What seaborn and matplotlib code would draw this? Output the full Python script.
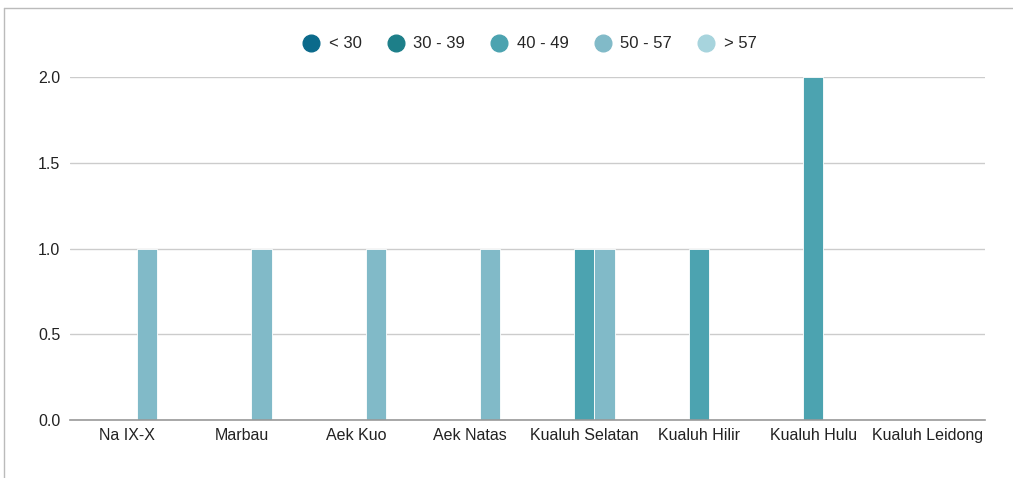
import pandas as pd
import numpy as np
import seaborn as sns
import matplotlib.pyplot as plt
from matplotlib.lines import Line2D

categories = ['Na IX-X', 'Marbau', 'Aek Kuo', 'Aek Natas', 'Kualuh Selatan',
              'Kualuh Hilir', 'Kualuh Hulu', 'Kualuh Leidong']
age_groups = ['< 30', '30 - 39', '40 - 49', '50 - 57', '> 57']
counts_lt30 = [0, 0, 0, 0, 0, 0, 0, 0]
counts_30_39 = [0, 0, 0, 0, 0, 0, 0, 0]
counts_40_49 = [0, 0, 0, 0, 1, 1, 2, 0]
counts_50_57 = [1, 1, 1, 1, 1, 0, 0, 0]
counts_gt57 = [0, 0, 0, 0, 0, 0, 0, 0]
colors = ['#0b6a8b', '#1d7f89', '#4ca3b0', '#81bac8', '#a7d4dd']

series = [counts_lt30, counts_30_39, counts_40_49, counts_50_57, counts_gt57]
rows = []
for grp, vals in zip(age_groups, series):
    for cat, v in zip(categories, vals):
        rows.append({'Kecamatan': cat, 'Umur': grp, 'Jumlah': v})
df = pd.DataFrame(rows)

sns.set_style('white')
plt.rcParams['font.family'] = ['Liberation Sans', 'DejaVu Sans']

fig = plt.figure(figsize=(10.13, 4.78), dpi=100)
ax = fig.add_axes([0.069, 0.121, 0.903, 0.718])
sns.barplot(data=df, x='Kecamatan', y='Jumlah', hue='Umur', order=categories,
            hue_order=age_groups, palette=colors, width=0.88, ax=ax,
            saturation=1, edgecolor='white', linewidth=0.6, errorbar=None,
            legend=False)

ax.set_ylim(0, 2.0)
ax.set_yticks(np.arange(0, 2.01, 0.5))
ax.set_yticklabels([f'{t:.1f}' for t in np.arange(0, 2.01, 0.5)])
ax.set_xlim(-0.5, len(categories) - 0.5)
ax.grid(axis='y', color='#cccccc', linewidth=1)
ax.set_axisbelow(True)
for s in ['top', 'right', 'left']:
    ax.spines[s].set_visible(False)
ax.spines['bottom'].set_color('#999999')
ax.spines['bottom'].set_linewidth(1.2)
ax.tick_params(axis='x', length=0, labelsize=11.5, colors='#222222', pad=6)
ax.tick_params(axis='y', length=0, labelsize=11.5, colors='#222222', pad=7)
ax.set_xlabel('')
ax.set_ylabel('')

handles = [Line2D([0], [0], marker='o', linestyle='', markersize=12,
                  markerfacecolor=c, markeredgecolor=c) for c in colors]
fig.legend(handles, age_groups, loc='center', bbox_to_anchor=(0.522, 0.908),
           ncol=5, frameon=False, fontsize=12, handletextpad=0.45,
           columnspacing=1.45, handlelength=1.2)

# frame edge of the original screenshot
fig.add_artist(Line2D([0.004, 1.0], [0.983, 0.983], transform=fig.transFigure,
                      color='#bbbbbb', linewidth=1))
fig.add_artist(Line2D([0.004, 0.004], [0.0, 0.983], transform=fig.transFigure,
                      color='#bbbbbb', linewidth=1))

fig.savefig('out.png', dpi=100)
